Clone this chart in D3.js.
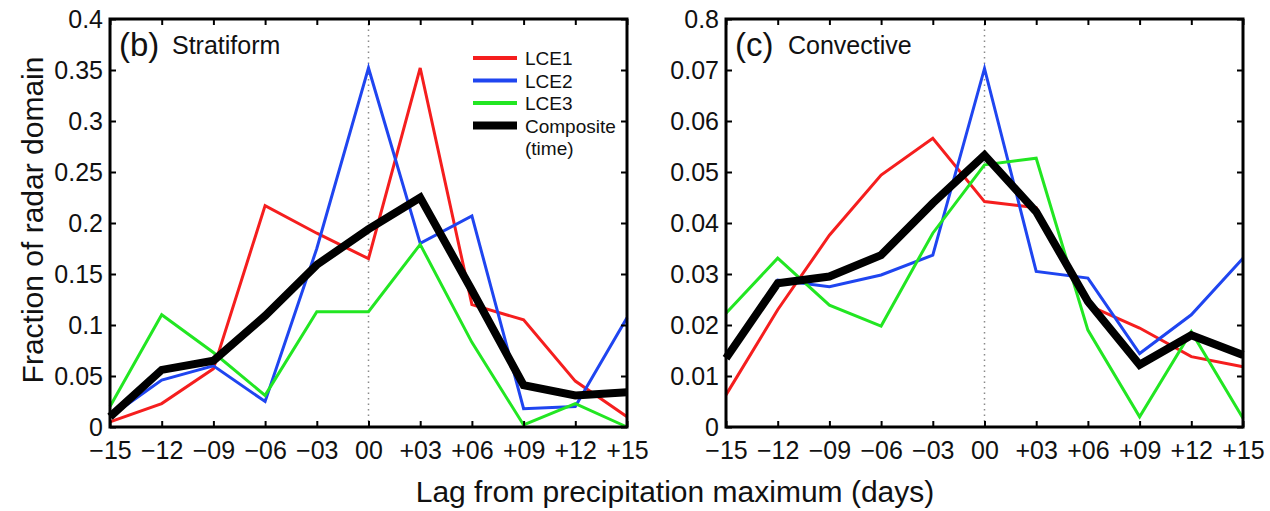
<!DOCTYPE html>
<html>
<head>
<meta charset="utf-8">
<script src="https://d3js.org/d3.v7.min.js"></script>
<style>
  body { margin: 0; background: #fff; }
  svg { font-family: "Liberation Sans", Arial, sans-serif; }
</style>
</head>
<body>
<svg id="chart" width="1270" height="511"></svg>
<script>
// lag in days and its tick labels
var lags = [-15, -12, -9, -6, -3, 0, 3, 6, 9, 12, 15]
var lagLabels = ["\u221215", "\u221212", "\u221209", "\u221206", "\u221203", "00", "+03", "+06", "+09", "+12", "+15"]

// (b) stratiform
var stratTicks = [0, 0.05, 0.1, 0.15, 0.2, 0.25, 0.3, 0.35, 0.4]
var stratTickLabels = ["0", "0.05", "0.1", "0.15", "0.2", "0.25", "0.3", "0.35", "0.4"]
var lce1Strat = [0.005, 0.023, 0.057, 0.217, 0.19, 0.165, 0.352, 0.12, 0.105, 0.045, 0.01]
var lce2Strat = [0.01, 0.046, 0.06, 0.025, 0.175, 0.352, 0.18, 0.207, 0.018, 0.02, 0.107]
var lce3Strat = [0.02, 0.11, 0.073, 0.031, 0.113, 0.113, 0.179, 0.083, 0.002, 0.023, 0.0]
var compStrat = [0.01, 0.056, 0.065, 0.109, 0.159, 0.194, 0.225, 0.134, 0.041, 0.031, 0.034]

// (c) convective
var convTicks = [0, 0.01, 0.02, 0.03, 0.04, 0.05, 0.06, 0.07, 0.08]
var convTickLabels = ["0", "0.01", "0.02", "0.03", "0.04", "0.05", "0.06", "0.07", "0.8"]
var lce1Conv = [0.0063, 0.023, 0.0376, 0.0494, 0.0566, 0.0442, 0.043, 0.0239, 0.0194, 0.0138, 0.0118]
var lce2Conv = [0.0135, 0.0288, 0.0275, 0.0298, 0.0337, 0.0703, 0.0305, 0.0292, 0.0144, 0.022, 0.0331]
var lce3Conv = [0.0223, 0.0331, 0.0239, 0.0198, 0.038, 0.0514, 0.0527, 0.019, 0.002, 0.0187, 0.0017]
var compConv = [0.0135, 0.0282, 0.0295, 0.0337, 0.0439, 0.0533, 0.0422, 0.0246, 0.0122, 0.018, 0.0141]

var seriesNames = ["LCE1", "LCE2", "LCE3", "Composite"]
var colors = {LCE1: "#f51e1e", LCE2: "#1f45f0", LCE3: "#22e622", Composite: "#000"}

var svg = d3.select("#chart")
var plotTop = 19, plotBottom = 427

function panel(left, right, ymax, ticks, tickLabels, series, tag, name, legend) {
    var x = d3.scaleLinear().domain([-15, 15]).range([left, right])
    var y = d3.scaleLinear().domain([0, ymax]).range([plotBottom, plotTop])
    var g = svg.append("g")

    // dotted line at lag 0
    g.append("line")
        .attr("x1", x(0)).attr("x2", x(0))
        .attr("y1", y(0)).attr("y2", y(ymax))
        .attr("stroke", "#8a8a8a").attr("stroke-width", 1.5)
        .attr("stroke-dasharray", "1.5,4")

    var line = d3.line().x((d, i) => x(lags[i])).y(d => y(d))
    seriesNames.forEach((s, k) => {
        g.append("path")
            .attr("d", line(series[k]))
            .attr("fill", "none")
            .attr("stroke", colors[s])
            .attr("stroke-width", s == "Composite" ? 8 : 3)
            .attr("stroke-linejoin", "miter")
    })

    // axes, ticks pointing inwards
    var xb = g.append("g").attr("transform", "translate(0," + plotBottom + ")")
        .call(d3.axisBottom(x).tickValues(lags).tickFormat((d, i) => lagLabels[i]).tickSize(-6).tickSizeOuter(0).tickPadding(14))
    var xt = g.append("g").attr("transform", "translate(0," + plotTop + ")")
        .call(d3.axisTop(x).tickValues(lags).tickFormat("").tickSize(-6).tickSizeOuter(0))
    var yl = g.append("g").attr("transform", "translate(" + left + ",0)")
        .call(d3.axisLeft(y).tickValues(ticks).tickFormat((d, i) => tickLabels[i]).tickSize(-6).tickSizeOuter(0).tickPadding(7))
    var yr = g.append("g").attr("transform", "translate(" + right + ",0)")
        .call(d3.axisRight(y).tickValues(ticks).tickFormat("").tickSize(-6).tickSizeOuter(0))
    ;[xb, xt, yl, yr].forEach(a => {
        a.select(".domain").remove()
        a.selectAll(".tick line").attr("stroke", "#000").attr("stroke-width", 2)
        a.selectAll("text").attr("font-size", 25).attr("fill", "#111").attr("font-family", "Liberation Sans, Arial, sans-serif")
    })

    g.append("rect")
        .attr("x", left).attr("y", plotTop)
        .attr("width", right - left).attr("height", plotBottom - plotTop)
        .attr("fill", "none").attr("stroke", "#000").attr("stroke-width", 3)

    g.append("text").attr("x", left + 9).attr("y", 56)
        .attr("font-size", 33).attr("fill", "#111").text(tag)
    g.append("text").attr("x", left + 62).attr("y", 54)
        .attr("font-size", 25).attr("fill", "#111").text(name)

    if (legend) {
        seriesNames.forEach((s, k) => {
            var ly = 58 + k * 22.5
            g.append("line")
                .attr("x1", 473).attr("x2", 517).attr("y1", ly).attr("y2", ly)
                .attr("stroke", colors[s]).attr("stroke-width", s == "Composite" ? 8 : 4)
            g.append("text").attr("x", 525).attr("y", ly + 7)
                .attr("font-size", 19).attr("fill", "#111").text(s)
        })
        g.append("text").attr("x", 525).attr("y", 58 + 4 * 22.5 + 7)
            .attr("font-size", 19).attr("fill", "#111").text("(time)")
    }
}

panel(110, 627, 0.4, stratTicks, stratTickLabels,
    [lce1Strat, lce2Strat, lce3Strat, compStrat], "(b)", "Stratiform", true)
panel(726, 1243, 0.08, convTicks, convTickLabels,
    [lce1Conv, lce2Conv, lce3Conv, compConv], "(c)", "Convective", false)

svg.append("text")
    .attr("transform", "translate(43,220) rotate(-90)")
    .attr("text-anchor", "middle")
    .attr("font-size", 30).attr("fill", "#111")
    .text("Fraction of radar domain")

svg.append("text")
    .attr("x", 675).attr("y", 502)
    .attr("text-anchor", "middle")
    .attr("font-size", 30).attr("fill", "#111")
    .text("Lag from precipitation maximum (days)")
</script>
</body>
</html>
